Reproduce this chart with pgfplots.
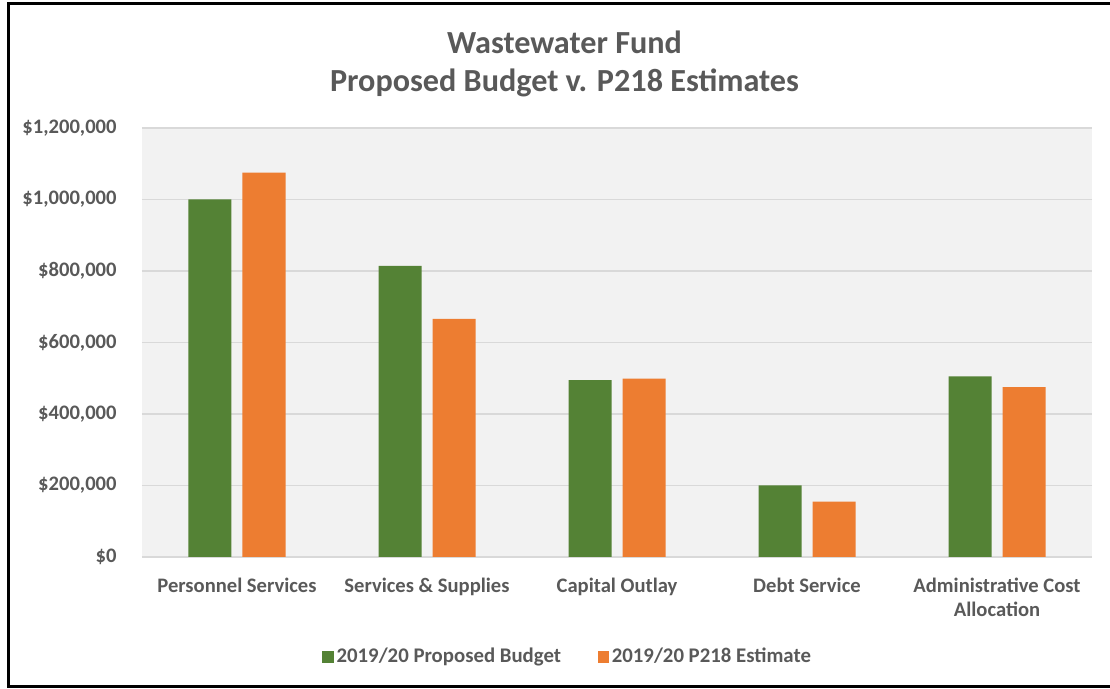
\documentclass[border=0pt]{standalone}
\usepackage{pgfplots}
\pgfplotsset{compat=1.18}
\usepackage{fontspec}
\setmainfont{Carlito}
\definecolor{txt}{HTML}{595959}
\definecolor{grid}{HTML}{D9D9D9}
\definecolor{bg}{HTML}{F2F2F2}
\definecolor{cgreen}{HTML}{548235}
\definecolor{corange}{HTML}{ED7D31}
\begin{document}
\begin{tikzpicture}
\useasboundingbox (0,0) rectangle (555pt,344.5pt);
\begin{axis}[
  scale only axis,
  width=475pt, height=214.5pt,
  at={(71pt,66pt)}, anchor=south west,
  xmin=-0.5, xmax=4.5, ymin=0, ymax=1200000,
  scaled y ticks=false,
  axis background/.style={fill=bg},
  axis line style={draw=none},
  major tick length=0pt,
  ymajorgrids, grid style={draw=grid, line width=0.8pt},
  ytick={0,200000,400000,600000,800000,1000000,1200000},
  yticklabels={\$0,{\$200,000},{\$400,000},{\$600,000},{\$800,000},{\$1,000,000},{\$1,200,000}},
  xtick={0,1,2,3,4},
  xticklabels={Personnel Services,Services \& Supplies,Capital Outlay,Debt Service,{Administrative Cost\\Allocation}},
  ticklabel style={font=\fontsize{10.3pt}{12pt}\selectfont\bfseries, text=txt, inner sep=0pt},
  yticklabel style={anchor=east, xshift=-12.5pt},
  xticklabel style={anchor=north, yshift=-10.5pt, align=center},
  ybar, bar width=21.5pt,
  legend style={at={(axis description cs:0.4484,-0.2330)}, anchor=center, draw=none, fill=none,
    font=\fontsize{10.4pt}{11pt}\selectfont\bfseries, text=txt, inner sep=0pt,
    nodes={inner sep=1.3pt}},
  legend columns=2,
  /tikz/every even column/.append style={column sep=17pt},
  legend image code/.code={\fill[#1] (0pt,-2.9pt) rectangle (5.8pt,2.9pt);},
  clip=false,
]
\addplot[fill=cgreen, draw=none, bar shift=-13.5pt] coordinates {(0,1000000) (1,814000) (2,495000) (3,200000) (4,505000)};
\addplot[fill=corange, draw=none, bar shift=13.5pt] coordinates {(0,1075000) (1,666000) (2,499000) (3,155000) (4,475000)};
\legend{2019/20 Proposed Budget, 2019/20 P218 Estimate}
\end{axis}
\node[text=txt, font=\fontsize{16.1pt}{19.3pt}\selectfont\bfseries, align=center] at (282.25pt,312.5pt) {Wastewater Fund\\Proposed Budget v. P218 Estimates};
\draw[line width=1.5pt] (556pt,342.75pt) -- (4.25pt,342.75pt) -- (4.25pt,1pt) -- (556pt,1pt);
\end{tikzpicture}
\end{document}
